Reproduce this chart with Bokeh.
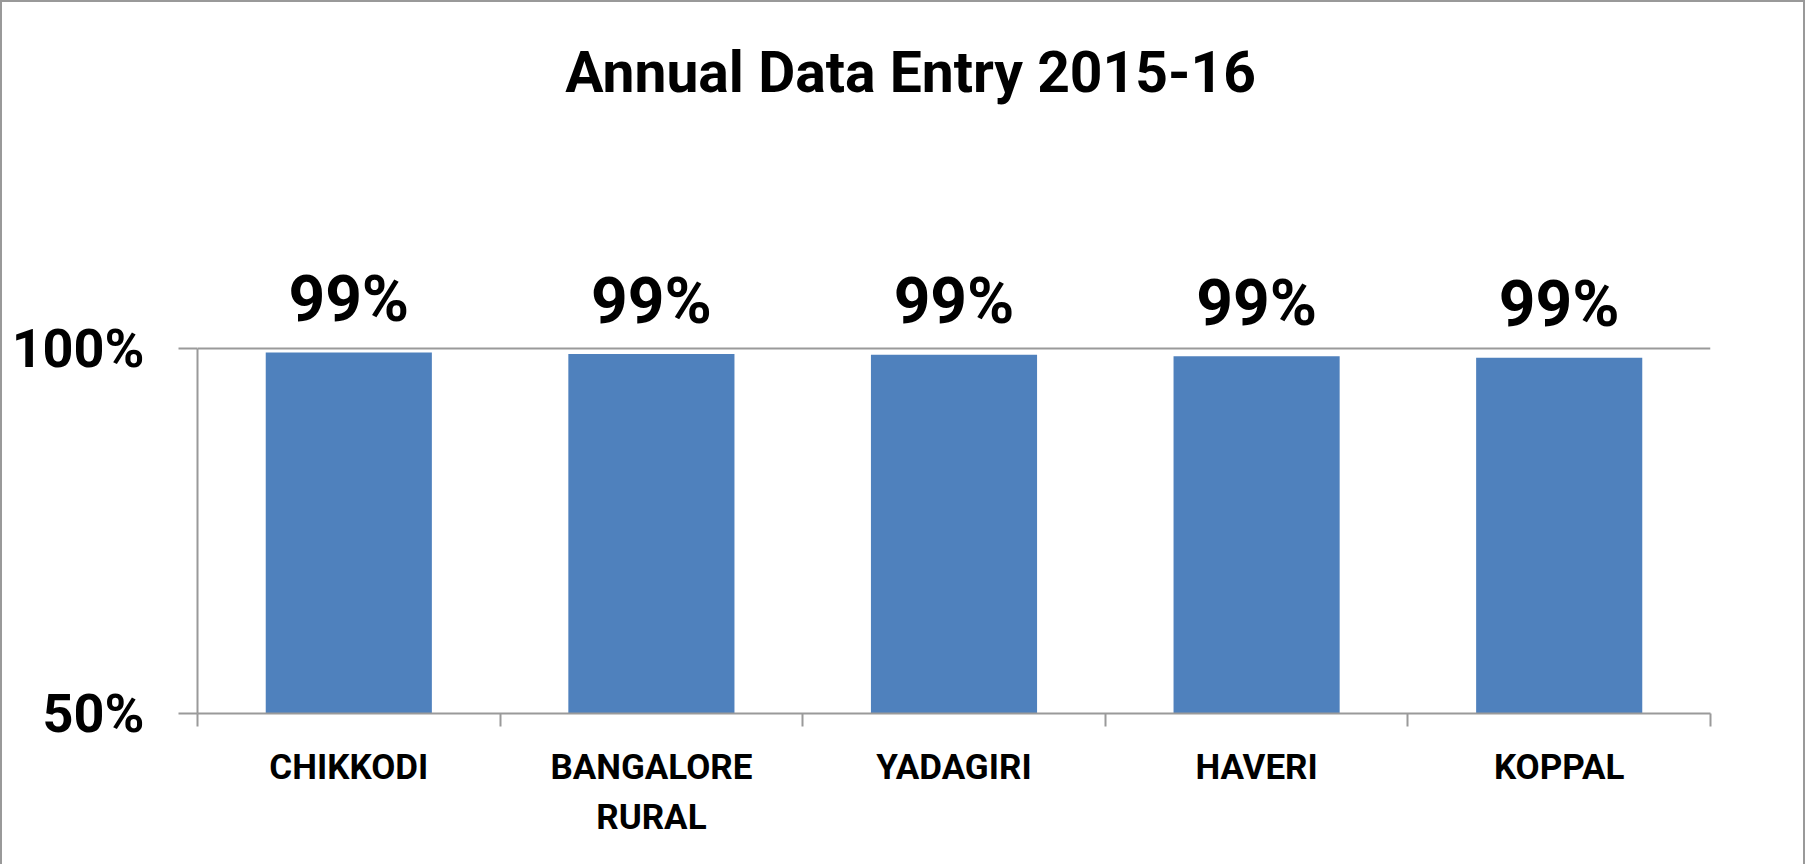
from bokeh.plotting import figure
from bokeh.models import FixedTicker, PrintfTickFormatter, Range1d, Label, ColumnDataSource
from bokeh.core.properties import value
from bokeh.embed import file_html
from bokeh.resources import INLINE

# ---- data ----
title_text = "Annual Data Entry 2015-16"
categories = ["CHIKKODI", "BANGALORE\nRURAL", "YADAGIRI", "HAVERI", "KOPPAL"]
values = [99.4, 99.2, 99.1, 98.9, 98.7]
y_ticks = [50, 100]

FONT_NAME = "Roboto"
FONT = value(FONT_NAME)
GRAY = "#9a9a9a"
BAR = "#4F81BD"

idx = list(range(len(categories)))
labels = [f"{round(v)}%" for v in values]
src = ColumnDataSource(dict(x=idx, top=values, label=labels))

p = figure(width=1805, height=864, output_backend="svg", toolbar_location=None,
           x_range=Range1d(-0.5, len(categories) - 0.5), y_range=Range1d(50, 145.95),
           min_border_left=195, min_border_right=97, min_border_top=10, min_border_bottom=153,
           background_fill_color="white", border_fill_color="white")
p.outline_line_color = None
p.styles = {"border-left": "2px solid #999999", "border-top": "2px solid #999999",
            "border-right": "2px solid #999999"}

p.vbar(x="x", top="top", bottom=50, width=0.549, source=src, fill_color=BAR, line_color=None)

p.text(x="x", y="top", text="label", source=src, text_align="center", text_baseline="middle",
       y_offset=-53, text_font=FONT, text_font_style="bold", text_font_size="64px", text_color="black")

# x axis
xa = p.xaxis[0]
xa.ticker = FixedTicker(ticks=idx, minor_ticks=[i - 0.5 for i in range(len(categories) + 1)])
xa.major_label_overrides = {i: c for i, c in zip(idx, categories)}
xa.major_tick_out = 0
xa.major_tick_in = 0
xa.minor_tick_out = 13
xa.minor_tick_in = 0
xa.minor_tick_line_color = GRAY
xa.minor_tick_line_width = 2
xa.axis_line_color = GRAY
xa.axis_line_width = 2
xa.major_label_standoff = 20
xa.major_label_text_font = FONT_NAME
xa.major_label_text_font_style = "bold"
xa.major_label_text_font_size = "35px"
xa.major_label_text_color = "black"
xa.major_label_text_line_height = 1.23

# y axis
ya = p.yaxis[0]
ya.ticker = FixedTicker(ticks=y_ticks)
ya.formatter = PrintfTickFormatter(format="%d%%")
ya.bounds = (50, 100)
ya.major_tick_out = 19
ya.major_tick_in = 0
ya.minor_tick_out = 0
ya.minor_tick_in = 0
ya.major_tick_line_color = GRAY
ya.major_tick_line_width = 2
ya.axis_line_color = GRAY
ya.axis_line_width = 2
ya.major_label_standoff = 34
ya.major_label_text_font = FONT_NAME
ya.major_label_text_font_style = "bold"
ya.major_label_text_font_size = "54px"
ya.major_label_text_color = "black"

p.xgrid.visible = False
p.ygrid.ticker = FixedTicker(ticks=y_ticks)
p.ygrid.grid_line_color = GRAY
p.ygrid.grid_line_width = 2

p.add_layout(Label(x=713, y=641, x_units="screen", y_units="screen", text=title_text,
                   text_align="center", text_baseline="middle", text_font=FONT_NAME,
                   text_font_style="bold", text_font_size="57px", text_color="black"))

open("out.html", "w").write(file_html(p, INLINE))
